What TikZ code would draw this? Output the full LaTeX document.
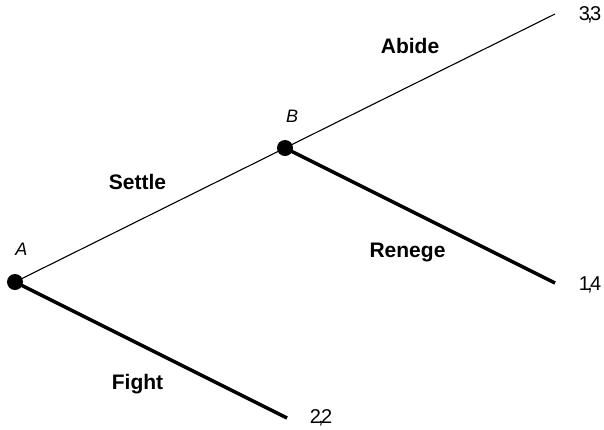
\documentclass[tikz,border=0pt]{standalone}
\usepackage{fontspec}
\setmainfont{Liberation Sans}
% pair of digits with the comma tucked underneath between them
\newcommand{\payoffpair}[2]{#1\makebox[0pt]{,}#2}
\begin{document}
\begin{tikzpicture}[x=1pt,y=-1pt,
  move/.style={font=\fontsize{21}{24}\selectfont\bfseries},
  player/.style={font=\fontsize{18}{21}\selectfont\itshape},
  payoff/.style={font=\fontsize{20}{23}\selectfont},
  dot/.style={circle,fill=black,inner sep=0pt,minimum size=16pt},
  thin edge/.style={line width=1.1pt},
  thick edge/.style={line width=3.4pt}]
\useasboundingbox (0,0) rectangle (604,429);
% decision nodes
\node[dot] (A) at (15,282) {};
\node[dot] (B) at (285,148) {};
% terminal points
\coordinate (abideEnd) at (555,14);
\coordinate (renegeEnd) at (555,283);
\coordinate (fightEnd) at (287,418);
% branches
\draw[thin edge] (A.center) -- (B.center);
\draw[thin edge] (B.center) -- (abideEnd);
\draw[thick edge] (B.center) -- (renegeEnd);
\draw[thick edge] (A.center) -- (fightEnd);
% player labels
\node[player] (labA) at (21.5,249) {A};
\node[player] (labB) at (292,116) {B};
% move labels
\node[move] (abide) at (410,46) {Abide};
\node[move] (settle) at (137.5,182) {Settle};
\node[move] (renege) at (407.5,252) {Renege};
\node[move] (fight) at (137.5,384) {Fight};
% payoffs
\node[payoff] (p1) at (590,15) {\payoffpair{3}{3}};
\node[payoff] (p2) at (590,285) {\payoffpair{1}{4}};
\node[payoff] (p3) at (321,418) {\payoffpair{2}{2}};
\end{tikzpicture}
\end{document}
